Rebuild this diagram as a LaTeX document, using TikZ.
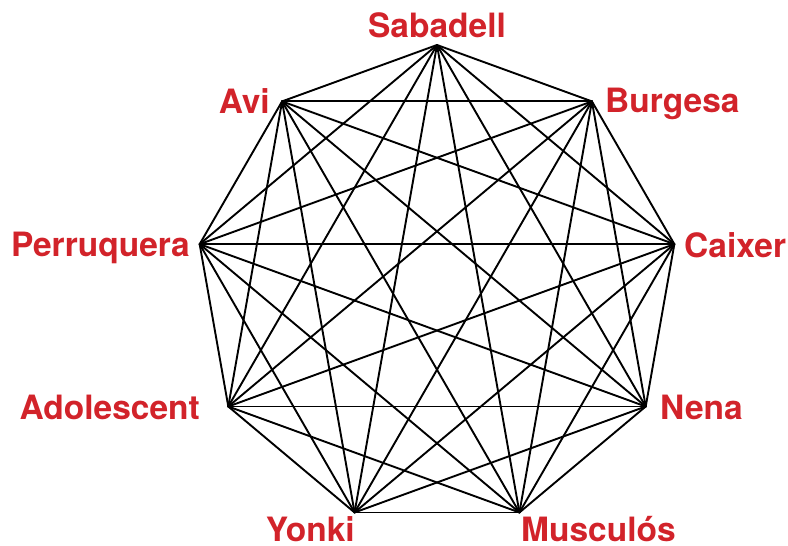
\documentclass[tikz,border=0pt]{standalone}
\usepackage{fontspec}
\setmainfont{TeX Gyre Heros}
\usetikzlibrary{positioning}
\definecolor{cityred}{HTML}{D2232A}

\begin{document}
\begin{tikzpicture}[
  x=1pt, y=-1pt,
  edge/.style={line width=1.9pt, black, line cap=round},
  city/.style={font=\fontsize{33.5}{40}\selectfont\bfseries, text=cityred, inner sep=0pt},
]
\useasboundingbox (0,0) rectangle (788,546);

% Vertices of the nonagon
\foreach \i/\ang in {1/-90, 2/-50, 3/-10, 4/30, 5/70, 6/110, 7/150, 8/190, 9/230}
  \coordinate (v\i) at ([shift={(437,286)}]\ang:241);

% Every pair of vertices
\foreach \i in {1,...,8} {
  \pgfmathtruncatemacro\nxt{\i+1}
  \foreach \j in {\nxt,...,9}
    \draw[edge] (v\i) -- (v\j);
}

% Labels
\node[city, anchor=base] (sabadell) at (437,37) {Sabadell};
\node[city, anchor=base west] (burgesa) at (605,112) {Burgesa};
\node[city, anchor=base west] (caixer) at (684,257) {Caixer};
\node[city, anchor=base west] (nena) at (660,419) {Nena};
\node[city, anchor=base west] (musculos) at (521,541) {Musculós};
\node[city, anchor=base east] (yonki) at (355,541) {Yonki};
\node[city, anchor=base east] (adolescent) at (200,419) {Adolescent};
\node[city, anchor=base east] (perruquera) at (190,256) {Perruquera};
\node[city, anchor=base east] (avi) at (270,113) {Avi};

\end{tikzpicture}
\end{document}
